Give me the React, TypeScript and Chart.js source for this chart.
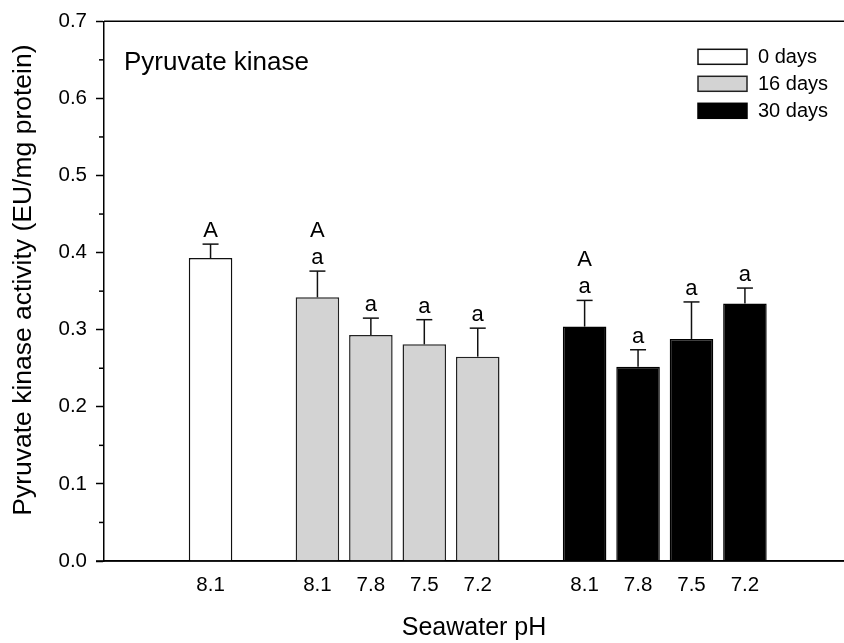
import React, { useEffect, useRef } from 'react';
import { Chart, registerables } from 'chart.js';

Chart.register(...registerables);

// ---- data ----
const groupNames = ['0 days', '16 days', '30 days'];
const phDay0 = ['8.1'];
const phDay16 = ['8.1', '7.8', '7.5', '7.2'];
const phDay30 = ['8.1', '7.8', '7.5', '7.2'];
const activityDay0 = [0.393];
const activityDay16 = [0.342, 0.293, 0.281, 0.265];
const activityDay30 = [0.304, 0.252, 0.288, 0.334];
const errorDay0 = [0.018];
const errorDay16 = [0.034, 0.022, 0.032, 0.037];
const errorDay30 = [0.034, 0.022, 0.048, 0.02];
const lettersDay0 = [['A']];
const lettersDay16 = [['A', 'a'], ['a'], ['a'], ['a']];
const lettersDay30 = [['A', 'a'], ['a'], ['a'], ['a']];
const yMajorTicks = [0, 0.1, 0.2, 0.3, 0.4, 0.5, 0.6, 0.7];
const yMinorTicks = [0.05, 0.15, 0.25, 0.35, 0.45, 0.55, 0.65];
const chartTitle = 'Pyruvate kinase';
const xAxisTitle = 'Seawater pH';
const yAxisTitle = 'Pyruvate kinase activity (EU/mg protein)';

const FONT = '"Liberation Sans", Arial, Helvetica, sans-serif';

const rawGroups = [
  { name: groupNames[0], ph: phDay0, values: activityDay0, errors: errorDay0, letters: lettersDay0, fill: '#ffffff', border: '#111111' },
  { name: groupNames[1], ph: phDay16, values: activityDay16, errors: errorDay16, letters: lettersDay16, fill: '#d3d3d3', border: '#222222' },
  { name: groupNames[2], ph: phDay30, values: activityDay30, errors: errorDay30, letters: lettersDay30, fill: '#000000', border: '#000000' },
];

// category order index: one empty slot between groups
let cursor = 0;
const groups = rawGroups.map((g) => {
  const start = cursor;
  cursor += g.ph.length + 1;
  return { ...g, positions: g.ph.map((_, i) => start + i) };
});
const tickPositions = groups.flatMap((g) => g.positions);
const tickLabelMap = new Map<number, string>();
groups.forEach((g) => g.positions.forEach((p, i) => tickLabelMap.set(p, g.ph[i])));

const overlayPlugin = {
  id: 'overlay',
  afterDatasetsDraw(chart: any) {
    const { ctx, chartArea, scales } = chart;
    const y = scales.y;
    const line = (x1: number, y1: number, x2: number, y2: number) => {
      ctx.beginPath();
      ctx.moveTo(x1, y1);
      ctx.lineTo(x2, y2);
      ctx.stroke();
    };
    ctx.save();
    ctx.strokeStyle = '#000';
    ctx.lineWidth = 1.5;
    // minor ticks
    yMinorTicks.forEach((v) => {
      const py = y.getPixelForValue(v);
      line(chartArea.left - 5, py, chartArea.left, py);
    });
    // top frame line and bottom axis line
    line(chartArea.left, chartArea.top, chartArea.right, chartArea.top);
    line(chartArea.left - 8, chartArea.bottom, chartArea.right, chartArea.bottom);

    // error bars and letters
    ctx.fillStyle = '#000';
    ctx.font = `22px ${FONT}`;
    ctx.textAlign = 'center';
    ctx.textBaseline = 'alphabetic';
    groups.forEach((g, di) => {
      const meta = chart.getDatasetMeta(di);
      meta.data.forEach((bar: any, i: number) => {
        const capY = y.getPixelForValue(g.values[i] + g.errors[i]);
        ctx.strokeStyle = '#111';
        line(bar.x, bar.y, bar.x, capY);
        line(bar.x - 8, capY, bar.x + 8, capY);
        const letters = g.letters[i];
        for (let k = 0; k < letters.length; k++) {
          const fromBottom = letters.length - 1 - k;
          ctx.fillText(letters[k], bar.x, capY - 7 - fromBottom * 27);
        }
      });
    });

    // y axis title (rotated)
    ctx.save();
    ctx.translate(24, (chartArea.top + chartArea.bottom) / 2 - 11);
    ctx.rotate(-Math.PI / 2);
    ctx.font = `26.5px ${FONT}`;
    ctx.textAlign = 'center';
    ctx.textBaseline = 'middle';
    ctx.fillText(yAxisTitle, 0, 0);
    ctx.restore();

    // chart title
    ctx.textAlign = 'left';
    ctx.font = `26px ${FONT}`;
    ctx.fillText(chartTitle, chartArea.left + 20, chartArea.top + 49);

    // legend
    ctx.font = `20px ${FONT}`;
    ctx.textBaseline = 'middle';
    groups.forEach((g, k) => {
      const bx = chartArea.right - 146;
      const by = chartArea.top + 28 + k * 27;
      ctx.fillStyle = g.fill;
      ctx.fillRect(bx, by, 49, 15);
      ctx.strokeStyle = g.border;
      ctx.lineWidth = 1.5;
      ctx.strokeRect(bx, by, 49, 15);
      ctx.fillStyle = '#000';
      ctx.fillText(g.name, bx + 60, by + 8);
    });
    ctx.restore();
  },
};

export default function App() {
  const canvasRef = useRef<HTMLCanvasElement | null>(null);

  useEffect(() => {
    if (!canvasRef.current) return;
    const chart = new Chart(canvasRef.current, {
      type: 'bar',
      data: {
        datasets: groups.map((g) => ({
          label: g.name,
          data: g.positions.map((p, i) => ({ x: p, y: g.values[i] })),
          backgroundColor: g.fill,
          borderColor: g.border,
          borderWidth: 1.5,
          grouped: false,
          barPercentage: 0.815,
          categoryPercentage: 1,
        })) as any,
      },
      options: {
        animation: false,
        responsive: false,
        devicePixelRatio: 1,
        layout: { padding: { top: 21, right: 0, bottom: 0, left: 0 } },
        plugins: { legend: { display: false }, tooltip: { enabled: false } },
        scales: {
          x: {
            type: 'linear',
            offset: false,
            min: -1.994,
            max: 11.854,
            grid: { display: false, drawTicks: false },
            border: { display: true, color: '#000', width: 1.5 },
            afterBuildTicks: (scale: any) => {
              scale.ticks = tickPositions.map((v) => ({ value: v }));
            },
            ticks: {
              autoSkip: false,
              maxRotation: 0,
              padding: 12,
              color: '#000',
              font: { family: FONT, size: 20.5 },
              callback: (v: any) => tickLabelMap.get(Number(v)) ?? '',
            },
            title: {
              display: true,
              text: xAxisTitle,
              color: '#000',
              font: { family: FONT, size: 25 },
              padding: { top: 0, bottom: 0 },
            },
            afterFit: (scale: any) => {
              scale.height = 82;
            },
          },
          y: {
            type: 'linear',
            min: 0,
            max: 0.7,
            afterBuildTicks: (scale: any) => {
              scale.ticks = yMajorTicks.map((v) => ({ value: v }));
            },
            grid: {
              display: true,
              drawOnChartArea: false,
              drawTicks: true,
              tickLength: 8,
              tickWidth: 1.5,
              tickColor: '#000',
            },
            border: { display: true, color: '#000', width: 1.5 },
            ticks: {
              padding: 9,
              color: '#000',
              font: { family: FONT, size: 20.5 },
              callback: (v: any) => Number(v).toFixed(1),
            },
            title: { display: false },
            afterFit: (scale: any) => {
              scale.width = 104;
            },
          },
        },
      } as any,
      plugins: [overlayPlugin],
    });
    return () => chart.destroy();
  }, []);

  return (
    <div style={{ position: 'absolute', left: 0, top: 0, width: 844, height: 643, background: '#fff', overflow: 'hidden' }}>
      <canvas ref={canvasRef} width={844} height={643} style={{ display: 'block' }} />
    </div>
  );
}
